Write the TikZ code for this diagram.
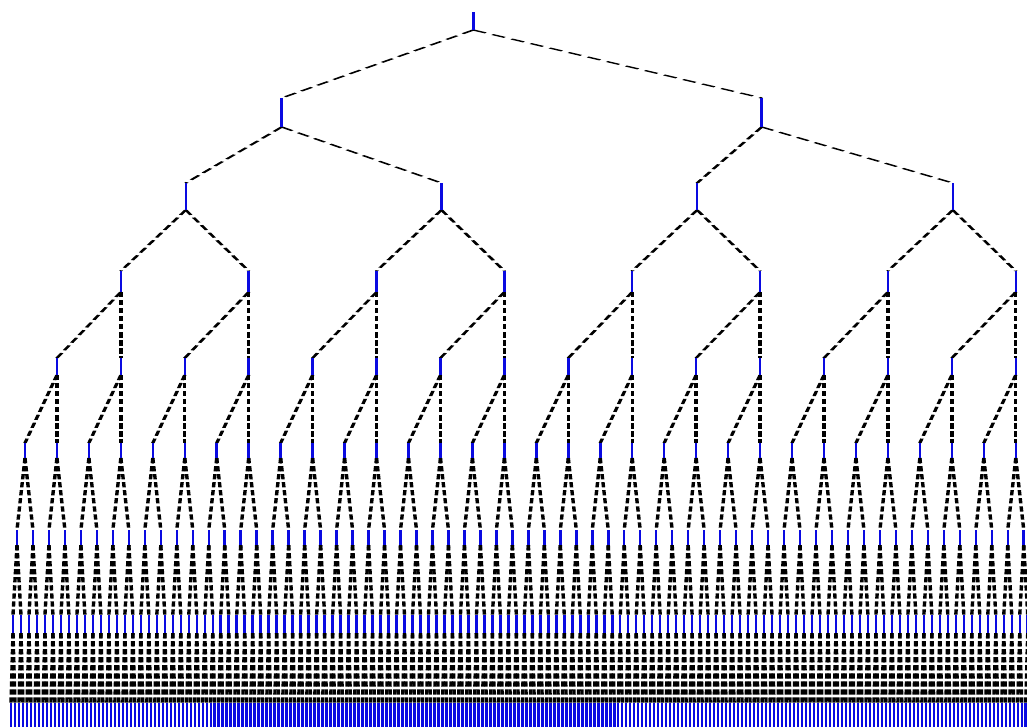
\documentclass[tikz,border=0pt]{standalone}
\begin{document}
\begin{tikzpicture}[x=1pt,y=-1pt,
  tickn/.style={shape=rectangle,inner sep=0pt,outer sep=0pt,minimum width=0pt,draw=none},
  tickline/.style={draw={rgb,255:red,10;green,10;blue,225},line width=2.5pt},
  conn/.style={draw=black,line width=3.4pt,dash pattern=on 15pt off 8pt}]
\useasboundingbox[fill=white] (0,0) rectangle (1027,726);
\begin{scope}[transform canvas={yscale=0.35},y=-2.857143pt]
\newcommand\mktick[4]{%
  \node[tickn,minimum height={((#4)-(#3))/0.35*1pt}] (#1) at (#2,{((#3)+(#4))/2}) {};}
% level 8 (leaves)
\foreach \n in {0,...,255}{\pgfmathsetmacro\xx{11+3.995*\n}\mktick{n8-\n}{\xx}{703}{733}}
% level 7
\foreach \n in {0,...,127}{\pgfmathsetmacro\xx{11+3.995*(2*\n+0.5)}\mktick{n7-\n}{\xx}{615}{633}}
% level 6
\foreach \n in {0,...,63}{\pgfmathsetmacro\xx{11+3.995*(4*\n+1.5)}\mktick{n6-\n}{\xx}{530}{545}}
% level 5
\foreach \n in {0,...,31}{\pgfmathsetmacro\xx{11+3.995*(8*\n+3.5)}\mktick{n5-\n}{\xx}{443}{458}}
% level 4
\foreach \n in {0,...,15}{\pgfmathsetmacro\xx{11+3.995*(16*\n+11.5)}\mktick{n4-\n}{\xx}{358}{375}}
% level 3
\foreach \n in {0,...,7}{\pgfmathsetmacro\xx{11+3.995*(32*\n+27.5)}\mktick{n3-\n}{\xx}{271}{292}}
% level 2
\foreach \n in {0,...,3}{\pgfmathsetmacro\xx{11+3.995*(64*\n+43.5)+1}\mktick{n2-\n}{\xx}{183}{210}}
% level 1 and root
\mktick{n1-0}{281.7}{98}{127}
\mktick{n1-1}{761.7}{98}{127}
\mktick{n0-0}{473.3}{12}{30}
% connectors
\foreach \lv/\cnt in {0/0,1/1,2/3,3/7,4/15,5/31,6/63,7/127}{
  \pgfmathtruncatemacro\nl{\lv+1}
  \foreach \n in {0,...,\cnt}{
    \pgfmathtruncatemacro\ca{2*\n}
    \pgfmathtruncatemacro\cb{2*\n+1}
    \draw[conn] (n\lv-\n.south) -- (n\nl-\ca.north);
    \draw[conn] (n\lv-\n.south) -- (n\nl-\cb.north);
  }}
% blue ticks
\foreach \lv/\cnt in {0/0,1/1,2/3,3/7,4/15,5/31,6/63,7/127,8/255}{
  \foreach \n in {0,...,\cnt}{
    \draw[tickline] (n\lv-\n.north) -- (n\lv-\n.south);
  }}
\end{scope}
\end{tikzpicture}
\end{document}
